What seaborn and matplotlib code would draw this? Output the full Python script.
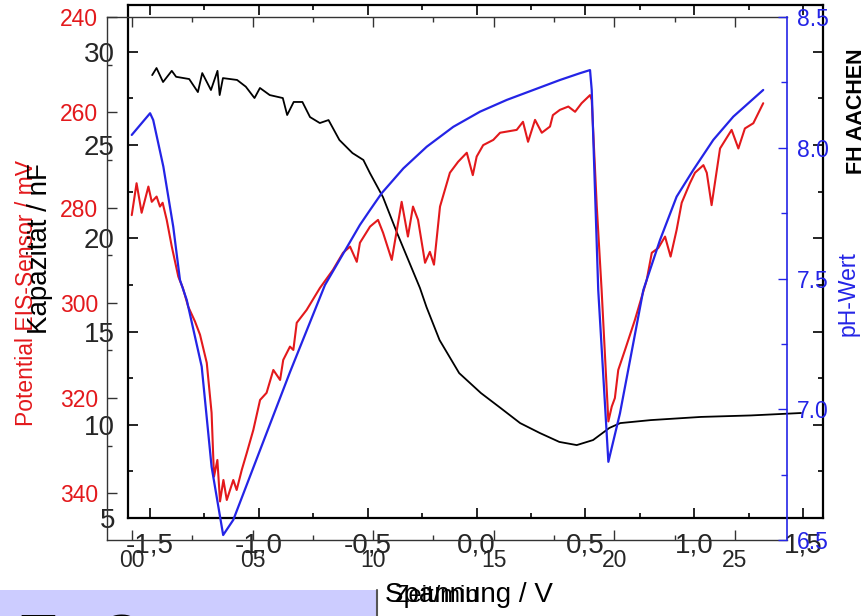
import matplotlib
matplotlib.use("Agg")
import matplotlib.pyplot as plt
from matplotlib.patches import Rectangle
from matplotlib.lines import Line2D
import seaborn as sns

# ---------------- data ----------------
# Capacitance (C-V curve, inner frame)
volt = [-1.49, -1.47, -1.44, -1.40, -1.38, -1.32, -1.28, -1.26, -1.22, -1.19,
        -1.18, -1.165, -1.10, -1.06, -1.02, -0.995, -0.95, -0.89, -0.87, -0.84,
        -0.80, -0.765, -0.72, -0.68, -0.63, -0.57, -0.52, -0.49, -0.43, -0.365,
        -0.26, -0.23, -0.17, -0.08, 0.02, 0.11, 0.20, 0.29, 0.38, 0.46,
        0.535, 0.61, 0.66, 0.80, 1.03, 1.26, 1.49]
cap_nf = [28.75, 29.13, 28.38, 28.98, 28.66, 28.54, 27.84, 28.86, 27.95, 28.98,
          27.68, 28.59, 28.49, 28.13, 27.52, 28.06, 27.68, 27.52, 26.61, 27.31,
          27.31, 26.50, 26.18, 26.34, 25.27, 24.57, 24.20, 23.50, 22.21, 20.28,
          17.33, 16.31, 14.54, 12.77, 11.70, 10.90, 10.09, 9.56, 9.08, 8.91,
          9.18, 9.83, 10.09, 10.25, 10.42, 10.50, 10.63]

# Potential of the EIS sensor over time
t_pot = [-0.01, 0.19, 0.40, 0.68, 0.82, 1.02, 1.16, 1.27, 1.44, 1.65,
         1.92, 2.11, 2.33, 2.61, 2.82, 3.10, 3.30, 3.40, 3.54, 3.65,
         3.79, 3.93, 4.20, 4.34, 4.55, 4.76, 5.03, 5.31, 5.58, 5.86,
         6.14, 6.27, 6.55, 6.69, 6.83, 7.24, 7.79, 8.33, 8.75, 9.04,
         9.32, 9.45, 9.87, 10.20, 10.41, 10.77, 11.18, 11.44, 11.65, 11.86,
         12.15, 12.35, 12.52, 12.77, 13.18, 13.52, 13.88, 14.13, 14.29, 14.56,
         14.98, 15.26, 15.95, 16.21, 16.42, 16.71, 16.99, 17.33, 17.45, 17.74,
         18.09, 18.37, 18.64, 18.99, 19.06, 19.27, 19.47, 19.75, 19.89, 20.02,
         20.16, 20.44, 20.85, 21.34, 21.55, 21.82, 22.10, 22.33, 22.58, 22.79,
         23.13, 23.34, 23.69, 23.83, 24.03, 24.38, 24.86, 25.14, 25.41, 25.76,
         26.17]
pot_mv = [281.6, 274.9, 281.1, 275.6, 278.8, 277.7, 279.8, 279.0, 282.6, 288.2,
          294.5, 296.9, 300.8, 303.9, 306.7, 312.6, 323.1, 336.5, 333.0, 341.7,
          337.2, 341.4, 337.2, 339.3, 335.1, 331.5, 326.7, 320.4, 318.9, 314.1,
          316.2, 312.0, 309.2, 309.9, 304.2, 301.5, 296.9, 293.1, 289.5, 288.2,
          291.4, 287.4, 284.0, 282.6, 285.3, 291.0, 278.8, 286.1, 279.8, 282.6,
          291.6, 289.3, 292.0, 279.8, 272.7, 270.4, 268.5, 273.2, 269.3, 266.9,
          265.8, 264.3, 263.7, 262.0, 266.2, 261.6, 264.3, 263.0, 260.6, 259.5,
          258.8, 259.9, 258.1, 256.4, 257.4, 279.8, 297.3, 324.9, 321.8, 320.0,
          314.1, 309.9, 303.6, 295.2, 289.5, 288.5, 286.1, 290.3, 284.7, 279.0,
          274.9, 272.7, 271.1, 272.7, 279.5, 267.6, 263.7, 267.6, 263.4, 262.3,
          258.1]

# pH over time
t_ph = [-0.01, 0.75, 0.88, 1.30, 1.71, 1.99, 2.27, 2.89, 3.30, 3.78,
        4.20, 5.31, 6.55, 8.00, 9.45, 9.87, 10.35, 11.25, 12.22, 13.32,
        14.43, 15.54, 16.64, 17.74, 18.57, 18.99, 19.06, 19.33, 19.75, 20.23,
        20.65, 21.20, 21.89, 22.58, 23.27, 24.10, 24.93, 26.17]
ph_val = [8.049, 8.132, 8.106, 7.928, 7.698, 7.494, 7.418, 7.163, 6.780, 6.519,
          6.577, 6.844, 7.142, 7.475, 7.705, 7.762, 7.826, 7.921, 8.004, 8.080,
          8.138, 8.183, 8.221, 8.259, 8.285, 8.297, 8.221, 7.456, 6.799, 6.984,
          7.188, 7.456, 7.647, 7.813, 7.915, 8.030, 8.119, 8.221]

# ticks / labels
volt_ticks = [-1.5, -1.0, -0.5, 0.0, 0.5, 1.0, 1.5]
volt_labels = ["-1,5", "-1,0", "-0,5", "0,0", "0,5", "1,0", "1,5"]
volt_minor = [-1.25, -0.75, -0.25, 0.25, 0.75, 1.25]
cap_ticks = [5, 10, 15, 20, 25, 30]
cap_minor = [7.5, 12.5, 17.5, 22.5, 27.5, 32.5]
time_ticks = [0, 5, 10, 15, 20, 25]
time_labels = ["00", "05", "10", "15", "20", "25"]
time_minor = [2.5, 7.5, 12.5, 17.5, 22.5]
pot_ticks = [240, 260, 280, 300, 320, 340]
pot_minor = [250, 270, 290, 310, 330]
ph_ticks = [6.5, 7.0, 7.5, 8.0, 8.5]
ph_labels = ["6.5", "7.0", "7.5", "8.0", "8.5"]
ph_minor = [6.75, 7.25, 7.75, 8.25]

# ---------------- style ----------------
sns.set_style("ticks")
plt.rcParams["font.family"] = ["Liberation Sans", "DejaVu Sans"]

W, H = 866, 616
fig = plt.figure(figsize=(W / 100, H / 100), dpi=100)

def rect(l, t, r, b):
    return [l / W, (H - b) / H, (r - l) / W, (b - t) / H]

RED = "#e3191c"
BLUE = "#2424e6"
GREY = "#333333"

# inner frame: capacitance vs voltage
ax_in = fig.add_axes(rect(128, 5, 823, 518))
ax_in.set_facecolor("none")
sns.lineplot(x=volt, y=cap_nf, ax=ax_in, color="black", linewidth=1.3,
             sort=False, estimator=None)
ax_in.set_xlim(-1.601, 1.591)
ax_in.set_ylim(5, 32.51)
ax_in.set_xticks(volt_ticks, volt_labels)
ax_in.set_xticks(volt_minor, minor=True)
ax_in.set_yticks(cap_ticks, [str(v) for v in cap_ticks])
ax_in.set_yticks(cap_minor, minor=True)
ax_in.set_xlabel("")
ax_in.set_ylabel("")
for s in ax_in.spines.values():
    s.set_visible(True)
    s.set_color("black")
    s.set_linewidth(1.6)
ax_in.tick_params(which="both", direction="in", top=True, right=True,
                  color="black", width=1.2)
ax_in.tick_params(which="major", length=7.2)
ax_in.tick_params(which="minor", length=3.6)
ax_in.tick_params(axis="x", which="major", labelsize=20, pad=10.5)
ax_in.tick_params(axis="y", which="major", labelsize=20, pad=9.4)

# outer frame: potential vs time, plus pH
ax_out = fig.add_axes(rect(107, 17, 787, 540))
ax_out.set_facecolor("none")
ax_ph = ax_out.twinx()
ax_ph.set_facecolor("none")
sns.lineplot(x=t_pot, y=pot_mv, ax=ax_out, color=RED, linewidth=1.5,
             sort=False, estimator=None)
sns.lineplot(x=t_ph, y=ph_val, ax=ax_ph, color=BLUE, linewidth=1.6,
             sort=False, estimator=None)
ax_out.set_xlim(-1.036, 27.156)
ax_out.set_ylim(349.8, 240)
ax_ph.set_ylim(6.5, 8.5)
ax_out.set_xticks(time_ticks, time_labels)
ax_out.set_xticks(time_minor, minor=True)
ax_out.set_yticks(pot_ticks, [str(v) for v in pot_ticks])
ax_out.set_yticks(pot_minor, minor=True)
ax_ph.set_yticks(ph_ticks, ph_labels)
ax_ph.set_yticks(ph_minor, minor=True)
for a in (ax_out, ax_ph):
    a.set_xlabel("")
    a.set_ylabel("")

for k in ("left", "top", "bottom"):
    ax_out.spines[k].set_visible(True)
    ax_out.spines[k].set_color(GREY)
    ax_out.spines[k].set_linewidth(1.0)
ax_out.spines["right"].set_visible(False)
for k in ("left", "top", "bottom"):
    ax_ph.spines[k].set_visible(False)
ax_ph.spines["right"].set_visible(True)
ax_ph.spines["right"].set_color(BLUE)
ax_ph.spines["right"].set_linewidth(1.2)

ax_out.tick_params(which="both", direction="in", top=True, right=False,
                   color=GREY, width=1.0)
ax_out.tick_params(which="major", length=7.2)
ax_out.tick_params(which="minor", length=3.6)
ax_out.tick_params(axis="x", which="major", labelsize=16.5, pad=6.5)
ax_out.tick_params(axis="y", which="major", labelsize=16.5, pad=6.5,
                   labelcolor=RED)
ax_ph.tick_params(axis="y", which="both", direction="in", color=BLUE,
                  width=1.0, labelcolor=BLUE)
ax_ph.tick_params(axis="y", which="major", length=6.5, labelsize=16.5, pad=7.2)
ax_ph.tick_params(axis="y", which="minor", length=4.3)

# axis titles
def fx(x):
    return x / W

def fy(y):
    return (H - y) / H

fig.text(fx(27), fy(293), "Potential EIS-Sensor / mV", color=RED, fontsize=16.5,
         rotation=90, ha="center", va="center")
fig.text(fx(40), fy(249), "Kapazität / nF", color="black", fontsize=20,
         rotation=90, ha="center", va="center")
fig.text(fx(848), fy(294), "pH-Wert", color=BLUE, fontsize=16.5,
         rotation=90, ha="center", va="center")
fig.text(fx(856), fy(111), "FH AACHEN", color="black", fontsize=15.5,
         fontweight="bold", rotation=90, ha="center", va="center")
fig.text(fx(385), fy(602), "Spannung / V", color="black", fontsize=20,
         ha="left", va="baseline")
fig.text(fx(394), fy(602), "Zeit/min", color="black", fontsize=17,
         ha="left", va="baseline")

# cut-off banner at the bottom left
fig.patches.append(Rectangle((0, 0), fx(377), 26 / H, transform=fig.transFigure,
                             facecolor="#ccccff", edgecolor="none", zorder=0))
fig.lines.append(Line2D([fx(377), fx(377)], [0, 26 / H], transform=fig.transFigure,
                        color="#555555", linewidth=1.5))
fig.text(fx(20), fy(655), "T", color="black", fontsize=41, fontweight="bold",
         ha="left", va="baseline")
fig.text(fx(100), fy(655), "C", color="black", fontsize=41, fontweight="bold",
         ha="left", va="baseline")

fig.savefig("out.png", dpi=100)
